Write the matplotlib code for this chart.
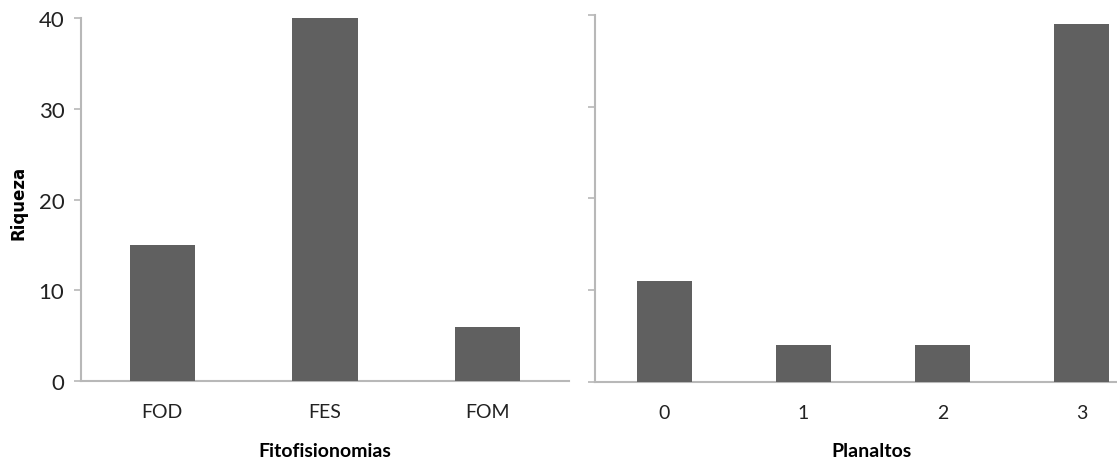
import matplotlib
matplotlib.use('Agg')
import matplotlib.pyplot as plt

plt.rcParams['font.family'] = ['Lato', 'DejaVu Sans']

fito_labels = ['FOD', 'FES', 'FOM']
fito_riqueza = [15, 40, 6]
plan_labels = ['0', '1', '2', '3']
plan_riqueza = [11, 4, 4, 39]

bar_color = '#606060'
axis_color = '#b8b8b8'

fig = plt.figure(figsize=(11.17, 4.64), dpi=100)
ax1 = fig.add_axes([0.0725, 0.1767, 0.4369, 0.7823])
ax2 = fig.add_axes([0.5327, 0.1746, 0.4978, 0.7910])


def style(ax, labels, values, show_ylabels):
    x = range(len(values))
    ax.bar(x, values, width=0.4, color=bar_color, zorder=3)
    ax.set_xlim(-0.5, len(values) - 0.5)
    ax.set_ylim(0, 40)
    ax.set_yticks([0, 10, 20, 30, 40])
    ax.set_xticks(list(x))
    ax.set_xticklabels(labels, fontsize=14, color='#222222')
    for s in ['top', 'right']:
        ax.spines[s].set_visible(False)
    for s in ['left', 'bottom']:
        ax.spines[s].set_color(axis_color)
        ax.spines[s].set_linewidth(1.5)
    ax.tick_params(axis='x', length=0, pad=16)
    ax.tick_params(axis='y', length=5, color=axis_color, width=1.2,
                   labelsize=16, labelcolor='#222222', pad=7)
    if not show_ylabels:
        ax.set_yticklabels([])


style(ax1, fito_labels, fito_riqueza, True)
style(ax2, plan_labels, plan_riqueza, False)

ax1.set_xlabel('Fitofisionomias', fontsize=14, fontweight='bold')
ax1.xaxis.set_label_coords(0.5, -0.168)
ax2.set_xlabel('Planaltos', fontsize=14, fontweight='bold')
ax2.xaxis.set_label_coords(0.498, -0.163)
ax1.set_ylabel('Riqueza', fontsize=12, fontweight='bold')
ax1.yaxis.label.set_fontfamily('DejaVu Sans')
ax1.yaxis.set_label_coords(-0.129, 0.493)
ax1.yaxis.label.set_verticalalignment('center')

fig.savefig('out.png', dpi=100, facecolor='white')
